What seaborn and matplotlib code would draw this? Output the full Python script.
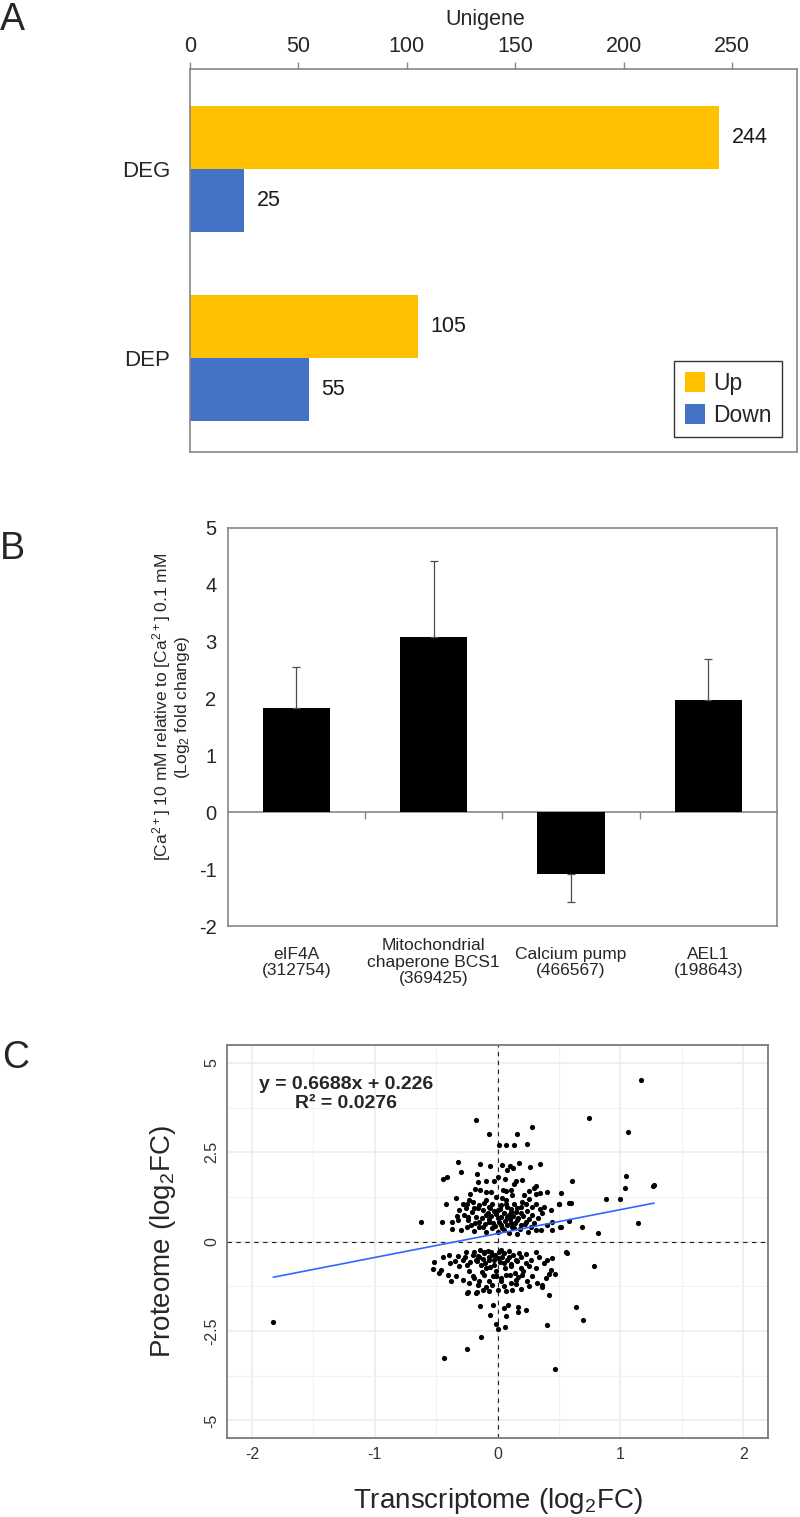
import numpy as np
import pandas as pd
import matplotlib
matplotlib.use("Agg")
import matplotlib.pyplot as plt
import matplotlib.ticker as mticker
import seaborn as sns

sns.set_theme(style="white")
plt.rcParams["font.family"] = ["Liberation Sans", "DejaVu Sans"]
plt.rcParams["mathtext.default"] = "regular"
plt.rcParams["axes.unicode_minus"] = False

# ---------------- data ----------------
# Panel A
a_categories = ["DEG", "DEP"]
a_up = [244, 105]
a_down = [25, 55]
a_xticks = [0, 50, 100, 150, 200, 250]

# Panel B
b_genes = ["eIF4A\n(312754)", "Mitochondrial\nchaperone BCS1\n(369425)",
           "Calcium pump\n(466567)", "AEL1\n(198643)"]
b_log2fc = [1.83, 3.08, -1.09, 1.97]
b_err = [0.72, 1.34, 0.49, 0.73]
b_yticks = [-2, -1, 0, 1, 2, 3, 4, 5]

# Panel C
c_slope = 0.6688
c_intercept = 0.226
c_r2 = 0.0276
transcriptome_fc = [
    -1.826, 1.172, -0.174, 0.742, 1.064, 0.279, -0.069, 0.160, 0.015, 0.069,
    0.134, 0.240, 1.043, 1.037, 1.275, 1.264, 0.886, 0.994, 0.691, 0.818,
    1.145, 0.783, 0.610, 0.597, 0.503, 0.516, 0.583, 0.510, 0.564, 0.467,
    -0.142, -0.040, 0.051, 0.083, 0.167, 0.167, 0.236, -0.058, -0.011, 0.007,
    0.062, 0.069, 0.407, 0.639, 0.697, -0.131, -0.247, -0.432, 0.468, 0.420,
    -0.240, -0.167,
    # upper cluster
    -0.324, -0.143, -0.059, 0.035, 0.103, 0.130, 0.176, 0.076, 0.262, 0.346,
    -0.446, -0.411, -0.297, -0.170, -0.162, -0.095, -0.027, 0.000, 0.062, 0.135,
    0.154, 0.203, 0.311, 0.349, 0.405,
    -0.419, -0.338, -0.251, -0.230, -0.189, -0.149, -0.095, -0.068, -0.041, -0.014,
    0.000, 0.027, 0.068, 0.081, 0.108, 0.135, 0.162, 0.189, 0.216, 0.230,
    0.257, 0.284, 0.311, 0.343, 0.378, 0.432, 0.500, 0.581,
    -0.311, -0.270, -0.243, -0.216, -0.176, -0.149, -0.122, -0.095, -0.068, -0.041,
    0.000, 0.027, 0.054, 0.081, 0.108, 0.135, 0.162, 0.189, 0.230, 0.270,
    0.311, 0.351, 0.405, 0.446, 0.514, 0.446,
    -0.622, -0.451, -0.370, -0.319, -0.297, -0.251,
    -0.186, -0.146, -0.092, 0.043, 0.070, 0.111, 0.300, 0.313,
    -0.21, -0.18, -0.16, -0.13, -0.12, -0.11, -0.10, -0.08, -0.07, -0.06,
    -0.05, -0.04, -0.03, -0.02, -0.01, 0.01, 0.02, 0.03, 0.04, 0.05,
    0.06, 0.07, 0.08, 0.09, 0.10, 0.11, 0.12, 0.13, 0.14, 0.15,
    0.17, 0.18, 0.19, 0.21, 0.22, 0.24, 0.26, 0.28, 0.30, -0.24,
    -0.26, -0.28, -0.20, -0.15, -0.09, 0.00, 0.09, 0.16, 0.25, -0.19,
    0.33, 0.36, -0.33, -0.37, -0.05, 0.04, 0.20, -0.22, 0.12, 0.26,
    # lower cluster
    -0.514, -0.527, -0.459, -0.392, -0.386, -0.324, -0.311, -0.262, -0.251, -0.203,
    -0.176, -0.149, -0.135, -0.108, -0.095, -0.068, -0.041, -0.027, 0.000, 0.027,
    0.054, 0.095, 0.108, 0.149, 0.176, 0.189, 0.230, 0.270, 0.311, 0.338,
    0.378, 0.405, 0.432, 0.446, 0.554,
    -0.473, -0.405, -0.378, -0.338, -0.284, -0.230, -0.189, -0.149, -0.108, -0.068,
    -0.041, -0.014, 0.027, 0.068, 0.108, 0.149, 0.203, 0.243, 0.284, 0.324,
    0.365, 0.392, 0.419,
    -0.251, -0.176, -0.122, -0.068, 0.000, 0.068, 0.122, 0.189, 0.257, 0.365,
    -0.19, -0.17, -0.16, -0.14, -0.12, -0.11, -0.10, -0.08, -0.07, -0.06,
    -0.05, -0.03, -0.02, -0.01, 0.01, 0.02, 0.04, 0.05, 0.06, 0.08,
    0.09, 0.11, 0.13, 0.14, 0.16, 0.19, 0.21, 0.23, -0.22, -0.23,
    -0.26, -0.28, -0.20, -0.13, -0.04, 0.03, 0.10, 0.17, -0.09, 0.05,
    0.15, -0.16, 0.31, 0.26, -0.35, -0.44,
]
proteome_fc = [
    -2.26, 4.52, 3.40, 3.46, 3.08, 3.21, 3.01, 3.02, 2.69, 2.69,
    2.69, 2.74, 1.83, 1.51, 1.58, 1.55, 1.18, 1.20, 0.41, 0.25,
    0.51, -0.68, 1.71, 1.09, 1.04, 1.36, 0.58, 0.41, -0.32, -0.91,
    -1.79, -1.78, -1.85, -1.78, -1.83, -1.98, -1.91, -2.06, -2.30, -2.43,
    -2.40, -2.08, -2.33, -1.83, -2.20, -2.66, -3.00, -3.26, -3.56, -1.48,
    -1.42, -1.42,
    # upper cluster
    2.24, 2.16, 2.11, 2.13, 2.11, 2.06, 2.20, 1.99, 2.08, 2.18,
    1.76, 1.82, 1.96, 1.90, 1.67, 1.69, 1.71, 1.82, 1.76, 1.62,
    1.71, 1.73, 1.56, 1.36, 1.39,
    1.06, 1.23, 1.06, 1.16, 0.93, 1.02, 1.16, 0.97, 1.06, 1.25,
    0.88, 1.02, 1.16, 0.97, 0.83, 1.06, 0.93, 0.79, 1.30, 1.06,
    1.18, 0.97, 1.06, 0.90, 0.97, 0.88, 1.06, 1.08,
    0.88, 0.74, 0.60, 0.46, 0.69, 0.56, 0.42, 0.74, 0.56, 0.37,
    0.65, 0.46, 0.32, 0.69, 0.51, 0.37, 0.60, 0.46, 0.56, 0.42,
    0.32, 0.32, 0.46, 0.32, 0.42, 0.56,
    0.54, 0.54, 0.34, 0.60, 0.32, 0.42,
    1.48, 1.45, 1.39, 1.45, 1.42, 1.44, 1.51, 1.34,
    0.83, 0.52, 0.95, 0.66, 0.88, 1.08, 0.48, 0.80, 0.62, 0.93,
    0.71, 0.52, 0.85, 0.43, 0.77, 0.55, 0.92, 0.68, 0.39, 0.81,
    0.58, 1.05, 0.47, 0.74, 0.63, 0.90, 0.41, 0.72, 0.52, 0.84,
    0.66, 0.35, 0.98, 0.71, 0.48, 0.86, 0.62, 0.75, 0.52, 0.70,
    0.95, 1.05, 1.12, 0.40, 0.28, 0.27, 0.25, 0.22, 0.28, 0.30,
    0.66, 0.80, 0.72, 0.55, 1.38, 1.22, 1.12, 1.33, 1.30, 1.43,
    # lower cluster
    -0.56, -0.76, -0.79, -0.37, -0.60, -0.40, -0.69, -0.44, -0.65, -0.37,
    -0.51, -0.42, -0.65, -0.28, -0.74, -0.51, -0.37, -0.65, -0.46, -0.23,
    -0.60, -0.42, -0.69, -0.51, -0.32, -0.74, -0.60, -0.51, -0.74, -0.42,
    -0.60, -0.51, -0.79, -0.46, -0.30,
    -0.88, -0.93, -1.11, -0.97, -1.06, -1.16, -1.02, -1.11, -0.93, -1.11,
    -1.20, -0.97, -1.11, -0.93, -1.16, -1.06, -0.93, -1.11, -0.97, -1.16,
    -1.20, -1.02, -0.90,
    -1.45, -1.45, -1.34, -1.39, -1.34, -1.39, -1.34, -1.32, -1.25, -1.27,
    -0.28, -0.55, -0.40, -0.22, -0.48, -0.33, -0.60, -0.26, -0.42, -0.70,
    -0.30, -0.52, -0.38, -0.82, -0.29, -0.58, -0.44, -0.33, -0.75, -0.50,
    -0.27, -0.62, -0.38, -0.88, -0.55, -0.43, -0.83, -0.35, -0.58, -0.82,
    -0.30, -0.50, -0.95, -0.85, -0.95, -1.02, -0.92, -1.00, -1.28, -1.24,
    -1.18, -1.22, -0.30, -0.68, -0.55, -0.42,
]
c_xticks = [-2, -1, 0, 1, 2]
c_yticks = [-5, -2.5, 0, 2.5, 5]

# ---------------- figure ----------------
W, H = 800, 1517
fig = plt.figure(figsize=(W / 100, H / 100), dpi=100)


def px_axes(left, top, right, bottom):
    return fig.add_axes([left / W, 1 - bottom / H, (right - left) / W, (bottom - top) / H])


frame_col = "#878787"

# ---------- Panel A ----------
axA = px_axes(189.8, 69, 797.4, 452)
df_a = pd.DataFrame({
    "cat": a_categories * 2,
    "dir": ["Up"] * len(a_categories) + ["Down"] * len(a_categories),
    "n": a_up + a_down,
})
sns.barplot(data=df_a, y="cat", x="n", hue="dir", orient="h",
            palette={"Up": "#FFC000", "Down": "#4472C4"}, width=0.668,
            saturation=1, linewidth=0, ax=axA, legend=True)
for cont in axA.containers:
    axA.bar_label(cont, padding=9, fontsize=15.5, color="#1a1a1a")
axA.set_xlim(0, 280)
axA.set_ylim(1.5, -0.532)
axA.xaxis.tick_top()
axA.xaxis.set_label_position("top")
axA.set_xticks(a_xticks)
axA.set_xlabel("Unigene", fontsize=15.5)
axA.xaxis.set_label_coords(0.486, 1.115)
axA.set_ylabel("")
axA.tick_params(axis="x", which="major", direction="out", length=5, width=1,
                color=frame_col, labelsize=15.5, pad=4)
axA.tick_params(axis="y", length=0, labelsize=16, pad=14)
for s in axA.spines.values():
    s.set_color(frame_col)
    s.set_linewidth(1.2)
leg = axA.legend(loc="lower right", bbox_to_anchor=(0.9747, 0.039), frameon=True,
                 fancybox=False, fontsize=16.5, handlelength=0.9, handleheight=0.95,
                 handletextpad=0.35, labelspacing=0.4, borderpad=0.45,
                 borderaxespad=0)
leg.get_frame().set_edgecolor("black")
leg.get_frame().set_linewidth(1.0)

# ---------- Panel B ----------
axB = px_axes(227.7, 527.7, 777, 926)
df_b = pd.DataFrame({"gene": b_genes, "fc": b_log2fc, "err": b_err})
sns.barplot(data=df_b, x="gene", y="fc", color="black", width=0.49,
            saturation=1, linewidth=0, ax=axB, errorbar=None)
err_low = [0 if v >= 0 else e for v, e in zip(b_log2fc, b_err)]
err_high = [e if v >= 0 else 0 for v, e in zip(b_log2fc, b_err)]
axB.errorbar(x=np.arange(len(b_genes)), y=b_log2fc, yerr=[err_low, err_high],
             fmt="none", ecolor="#4d4d4d", elinewidth=0.9, capsize=3, capthick=0.9)
axB.set_ylim(-2, 5)
axB.set_xlim(-0.5, len(b_genes) - 0.5)
axB.set_yticks(b_yticks)
axB.set_xlabel("")
axB.set_ylabel("[Ca$^{2+}$] 10 mM relative to [Ca$^{2+}$] 0.1 mM\n(Log$_2$ fold change)",
               fontsize=12.5, linespacing=1.05)
axB.yaxis.label.set_va("center")
axB.yaxis.set_label_coords(-0.103, 0.55)
axB.tick_params(axis="y", direction="out", length=5, width=1, color=frame_col,
                labelsize=14.5, pad=3)
axB.tick_params(axis="x", length=0, labelsize=12.5, pad=26)
for t in axB.get_xticklabels():
    t.set_va("center")
    t.set_linespacing(1.1)
for s in axB.spines.values():
    s.set_color(frame_col)
    s.set_linewidth(1.2)
zero_ax = axB.secondary_xaxis(2 / 7)
zero_ax.set_xticks([0.5, 1.5, 2.5])
zero_ax.set_xticklabels([])
zero_ax.tick_params(direction="out", length=5, width=1, color=frame_col)
for s in zero_ax.spines.values():
    s.set_color(frame_col)
    s.set_linewidth(1.2)

# ---------- Panel C ----------
axC = px_axes(227.3, 1045, 767.7, 1438.3)
axC.set_xlim(-2.2, 2.2)
axC.set_ylim(-5.5, 5.5)
axC.set_xticks(c_xticks)
axC.set_yticks(c_yticks)
axC.yaxis.set_major_formatter(mticker.FuncFormatter(lambda v, p: f"{v:g}"))
axC.set_xticks([-1.5, -0.5, 0.5, 1.5], minor=True)
axC.set_yticks([-3.75, -1.25, 1.25, 3.75], minor=True)
axC.grid(True, which="major", color="#EBEBEB", linewidth=1.1)
axC.grid(True, which="minor", color="#F2F2F2", linewidth=0.8)
axC.set_axisbelow(True)
axC.axhline(0, color="#222222", linewidth=0.8, linestyle=(0, (4, 4)), zorder=1)
axC.axvline(0, color="#222222", linewidth=0.8, linestyle=(0, (4, 4)), zorder=1)
df_c = pd.DataFrame({"t": transcriptome_fc, "p": proteome_fc})
sns.scatterplot(data=df_c, x="t", y="p", color="black", s=14, linewidth=0,
                ax=axC, zorder=3)
fit_x = np.array([min(transcriptome_fc), max(transcriptome_fc)])
sns.lineplot(x=fit_x, y=c_slope * fit_x + c_intercept, color="#3366FF",
             linewidth=1.2, ax=axC, zorder=4)
axC.text(-1.23, 4.14, f"y = {c_slope}x + {c_intercept}\nR² = {c_r2}",
         ha="center", va="center", multialignment="center", fontsize=14,
         fontweight="bold", linespacing=1.15, zorder=5)
axC.set_xlabel("Transcriptome (log$_2$FC)", fontsize=20)
axC.set_ylabel("Proteome (log$_2$FC)", fontsize=20)
axC.xaxis.set_label_coords(0.5, -0.1587)
axC.xaxis.label.set_va("center")
axC.yaxis.set_label_coords(-0.1197, 0.5)
axC.yaxis.label.set_va("center")
axC.tick_params(axis="both", which="major", direction="out", length=3, width=1,
                color="#555555", labelsize=11.5, labelcolor="#333333", pad=3)
axC.tick_params(axis="both", which="minor", length=0)
for t in axC.get_yticklabels():
    t.set_rotation(90)
    t.set_va("center")
for s in axC.spines.values():
    s.set_color("#7a7a7a")
    s.set_linewidth(1.3)

# panel letters
fig.text(0 / W, 1 - 20 / H, "A", fontsize=27, va="center", ha="left")
fig.text(0 / W, 1 - 549 / H, "B", fontsize=27, va="center", ha="left")
fig.text(2 / W, 1 - 1058 / H, "C", fontsize=27, va="center", ha="left")

fig.savefig("out.png", dpi=100)
